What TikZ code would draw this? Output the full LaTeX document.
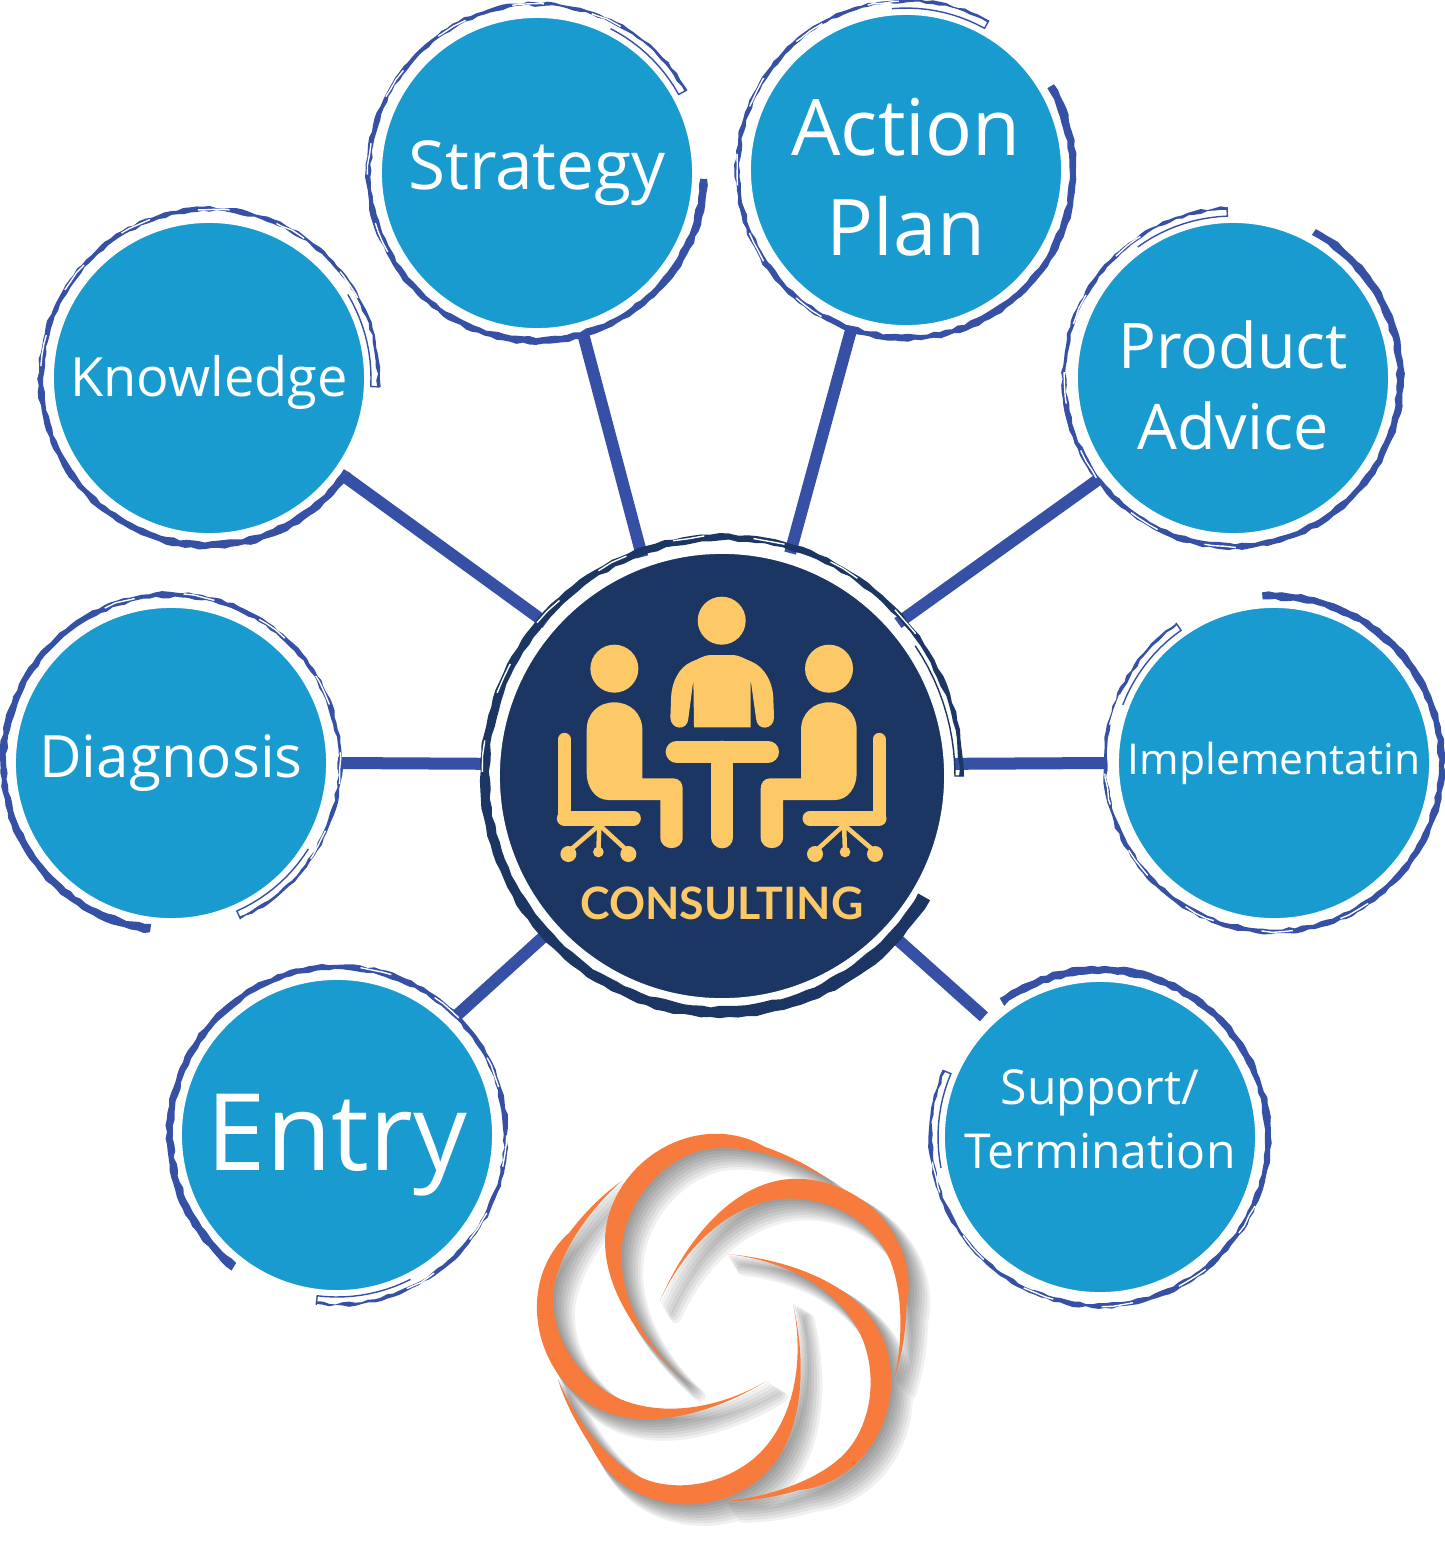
\documentclass[tikz,border=0pt]{standalone}
\usepackage{fontspec}
\setmainfont{Open Sans}[Ligatures=NoCommon]
\newfontfamily\brandfont{Lato}
\usepackage{xcolor}
\usetikzlibrary{positioning}

\definecolor{bubbleblue}{HTML}{1A9BCF}
\definecolor{ringblue}{HTML}{3650A5}
\definecolor{hubnavy}{HTML}{1C3664}
\definecolor{seatgold}{HTML}{FDC966}
\definecolor{swirlorange}{HTML}{F67B3C}

\tikzset{
  bubble/.style={circle, fill=bubbleblue, draw=white, line width=0.12cm, minimum size=3.22cm,
    inner sep=0pt, text=white, align=center},
  hub/.style={circle, fill=hubnavy, draw=white, line width=0.11cm, minimum size=4.55cm, inner sep=0pt},
  spoke/.style={draw=ringblue, line width=0.12cm},
  goldline/.style={draw=seatgold, line cap=round, line join=round}
}

\newcommand{\sizefont}[2]{\fontsize{#1}{#2}\selectfont}

% node, outer radius, angle of the thick end, thick width, colour
\newcommand{\brushring}[5]{%
  \begin{scope}[shift={(#1.center)}]
    \fill[#5] plot[domain=0:329, samples=150] ({#3-\x}:{#2+2.4*rnd-1.2})
      -- plot[domain=329:0, samples=150] ({#3-\x}:{#2-#4+0.67*#4*\x/329+2.4*rnd-1.2}) -- cycle;
    \draw[#5, line width=0.4pt] plot[domain=295:329, samples=12] ({#3-\x}:{#2-9}) -- ({#3-329}:{#2});
    \draw[white, line width=0.4pt, dash pattern=on 9pt off 14pt] plot[domain=150:300, samples=40] ({#3-\x}:{#2-2+1.6*rnd-0.8});
  \end{scope}}

\newcommand{\swirlarm}{(-201,68) .. controls (-120,260) and (30,440) .. (212,440)
  .. controls (420,440) and (590,250) .. (547,55)
  .. controls (545,-30) and (530,-110) .. (510,-165)
  .. controls (535,-60) and (540,100) .. (492,205)
  .. controls (450,300) and (330,380) .. (192,380)
  .. controls (50,380) and (-110,270) .. (-201,68) -- cycle}

\begin{document}
\begin{tikzpicture}[x=0.01cm, y=0.01cm]
        \useasboundingbox (0,0) rectangle (1444,-1541);
        \pgfmathsetseed{7}

        % Centre
        \node[hub] (hubnode) at (722,-776) {};

        % Outer circles
        \node[bubble, font=\sizefont{19.2}{22}] (strategy) at (537,-173) {Strategy};
        \node[bubble, font=\sizefont{22.2}{28.4}] (actionplan) at (906,-170) {\rule{0pt}{20.5pt}Action\\Plan};
        \node[bubble, font=\sizefont{15.4}{18}] (knowledge) at (209,-378) {\rule{0pt}{14pt}Knowledge};
        \node[bubble, font=\sizefont{17.9}{23}] (productadvice) at (1233,-378) {\rule{0pt}{18pt}Product\\Advice};
        \node[bubble, font=\sizefont{16.6}{20}] (diagnosis) at (171,-763) {Diagnosis};
        \node[bubble, font=\sizefont{12.1}{16}] (implementatin) at (1274,-763) {Implementatin};
        \node[bubble, font=\sizefont{30.4}{34}] (entry) at (337,-1135) {\rule{0pt}{27.3pt}Entry};
        \node[bubble, font=\sizefont{13.7}{18.2}] (support) at (1100,-1137) {Support/\\Termination\rule[-10pt]{0pt}{10pt}};

        % Spokes
        \draw[spoke] (hubnode.110.4) -- (strategy.-74.5);
        \draw[spoke] (hubnode.73) -- (actionplan.-109);
        \draw[spoke] (hubnode.139) -- (knowledge.-36);
        \draw[spoke] (hubnode.41.6) -- (productadvice.217);
        \draw[spoke] (hubnode.177) -- (diagnosis.0);
        \draw[spoke] (hubnode.3) -- (implementatin.180);
        \draw[spoke] (hubnode.222.5) -- (entry.45);
        \draw[spoke] (hubnode.-43) -- (support.134);

        % Brush rings
        \foreach \ringnode/\thickend in {strategy/-2, actionplan/30, knowledge/-34, productadvice/61,
            diagnosis/263, implementatin/94, entry/232, support/126}
          {\brushring{\ringnode}{171}{\thickend}{8}{ringblue}}
        \brushring{hubnode}{242}{-31}{13}{hubnavy}

        % Meeting icon
        \begin{scope}[shift={(721.7,-530)}, scale=1/3]
          \fill[seatgold] (0,-272) circle (72);
          \fill[seatgold] (35,-375) .. controls (60,-378) and (70,-388) .. (90,-395)
            .. controls (130,-412) and (155,-460) .. (155,-510) -- (157,-562)
            .. controls (157,-600) and (105,-605) .. (103,-565) -- (87,-450) -- (87,-592) -- (-83,-592) -- (-85,-450)
            -- (-100,-565) .. controls (-102,-605) and (-154,-600) .. (-154,-562) -- (-152,-510)
            .. controls (-152,-460) and (-130,-412) .. (-90,-395)
            .. controls (-70,-388) and (-60,-378) .. (-35,-375) -- cycle;
          % Table
          \draw[goldline, line width=0.22cm] (-135,-665) -- (139,-665);
          \draw[goldline, line width=0.22cm] (2,-665) -- (2,-922);
          % Sitters
          \foreach \side in {1,-1}
          {
            \begin{scope}[xscale=\side]
              \fill[seatgold] (-322,-416) circle (72);
              \fill[seatgold] (-405,-600) .. controls (-405,-550) and (-370,-517) .. (-322,-517)
                .. controls (-275,-517) and (-238,-550) .. (-238,-600) -- (-238,-745) -- (-145,-745)
                .. controls (-127,-745) and (-117,-760) .. (-117,-775) -- (-117,-922)
                .. controls (-117,-965) and (-184,-965) .. (-184,-922) -- (-184,-810) -- (-340,-810)
                .. controls (-380,-810) and (-405,-770) .. (-405,-730) -- cycle;
              \draw[goldline, line width=0.13cm] (-472,-628) -- (-472,-865);
              \draw[goldline, line width=0.15cm] (-472,-865) -- (-265,-865);
              \draw[goldline, line width=0.045cm] (-367,-885) -- (-460,-965);
              \draw[goldline, line width=0.045cm] (-367,-885) -- (-280,-965);
              \draw[goldline, line width=0.045cm] (-367,-885) -- (-370,-965);
              \fill[seatgold] (-460,-972) circle (24) (-280,-972) circle (24) (-370,-966) circle (16);
            \end{scope}
          }
        \end{scope}
        \node[text=seatgold, font=\sizefont{12.7}{16}\brandfont\bfseries] (brand) at (722,-903) {CONSULTING};

        % Swirl
        \foreach \spread in {16,14,...,2}
        {
          \begin{scope}[transparency group, opacity=0.06]
            \foreach \armangle in {0,72,...,288}
              \filldraw[black, line join=round, line width=\spread*0.2pt, shift={({726+\spread},{-1324-\spread})}, scale=0.33, rotate=\armangle] \swirlarm;
          \end{scope}
        }
        \foreach \armangle in {0,72,...,288}
          \fill[swirlorange, shift={(726,-1324)}, scale=0.33, rotate=\armangle] \swirlarm;
    \end{tikzpicture}
\end{document}
